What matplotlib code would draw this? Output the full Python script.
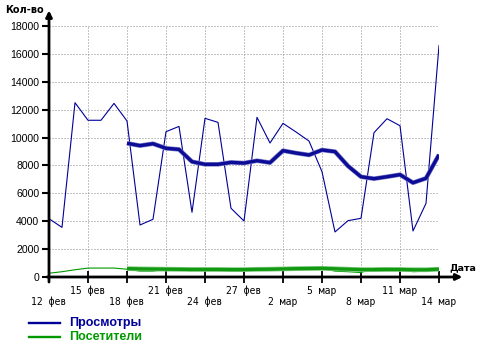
import matplotlib
matplotlib.use("Agg")
import matplotlib.pyplot as plt
import numpy as np

# Daily statistics, 12 Feb .. 14 Mar
days = list(range(31))
tick_days = list(range(0, 31, 3))
tick_labels = ["12 фев", "15 фев", "18 фев", "21 фев", "24 фев", "27 фев",
               "2 мар", "5 мар", "8 мар", "11 мар", "14 мар"]

views = [4180, 3560, 12500, 11240, 11240, 12450, 11190, 3730, 4140, 10420,
         10800, 4640, 11380, 11090, 4930, 4015, 11450, 9610, 11020, 10400,
         9750, 7550, 3230, 4040, 4210, 10350, 11350, 10850, 3300, 5280, 16600]
visitors = [270, 380, 520, 640, 640, 640, 560, 420, 420, 560,
            560, 450, 580, 560, 420, 430, 600, 560, 660, 620,
            600, 640, 420, 380, 320, 620, 640, 580, 380, 420, 580]

# Smoothed series start on 18 Feb
avg_days = list(range(6, 31))
views_avg = [9590, 9420, 9560, 9230, 9150, 8270, 8080, 8080, 8220, 8170,
             8340, 8200, 9060, 8890, 8750, 9110, 8990, 7960, 7190, 7050,
             7190, 7340, 6760, 7080, 8770]
visitors_avg = [600, 580, 570, 560, 550, 540, 540, 540, 530, 530,
                550, 560, 580, 600, 610, 620, 590, 560, 530, 530,
                540, 540, 520, 520, 560]

y_ticks = list(range(0, 18001, 2000))

BLUE = "#000099"
GREEN = "#009900"

W, H = 478, 348
fig = plt.figure(figsize=(W / 100, H / 100), dpi=100)
fig.patch.set_facecolor("white")
ax = fig.add_axes([49 / W, (H - 277) / H, 390 / W, 251 / H])
ax.set_xlim(0, 30)
ax.set_ylim(0, 18000)
for s in ax.spines.values():
    s.set_visible(False)

# dotted grid
grid_style = dict(color="#8c8c8c", lw=0.72, linestyle=(0, (1, 2)), zorder=1)
for yv in y_ticks[1:]:
    ax.axhline(yv, **grid_style)
for xv in tick_days[1:]:
    ax.axvline(xv, **grid_style)

# series
ax.plot(days, visitors, color=GREEN, lw=0.8, zorder=3)
ax.plot(avg_days, visitors_avg, color="#7fc97f", lw=3.4, zorder=3,
        solid_capstyle="butt")
ax.plot(avg_days, visitors_avg, color="#119911", lw=2.3, zorder=3,
        solid_capstyle="butt")
ax.plot(days, views, color=BLUE, lw=0.8, zorder=4)
ax.plot(avg_days, views_avg, color="#8080c8", lw=3.3, zorder=5,
        solid_capstyle="butt")
ax.plot(avg_days, views_avg, color="#0c0c96", lw=2.4, zorder=5,
        solid_capstyle="butt")

# axes with arrows
ax.annotate("", xy=(0, 1.062), xytext=(0, -0.02), xycoords="axes fraction",
            arrowprops=dict(arrowstyle="-|>", lw=2.0, color="black",
                            mutation_scale=9, shrinkA=0, shrinkB=0),
            annotation_clip=False, zorder=6)
ax.annotate("", xy=(1.06, 0), xytext=(-0.005, 0), xycoords="axes fraction",
            arrowprops=dict(arrowstyle="-|>", lw=2.0, color="black",
                            mutation_scale=9, shrinkA=0, shrinkB=0),
            annotation_clip=False, zorder=6)

# ticks
ax.set_yticks(y_ticks)
ax.set_yticklabels([str(v) for v in y_ticks], fontsize=7.6,
                   family="Liberation Sans")
ax.tick_params(axis="y", direction="out", length=5, width=1.5, pad=2)
ax.set_xticks(tick_days)
ax.set_xticklabels([])
ax.tick_params(axis="x", direction="inout", length=8, width=1.3)

for i, (d, lab) in enumerate(zip(tick_days, tick_labels)):
    yoff = -14 / 251 if i % 2 == 1 else -25 / 251
    ax.text(d, yoff, lab, transform=ax.get_xaxis_transform(), ha="center",
            va="center", fontsize=7, family="DejaVu Sans Mono")

# axis titles
fig.text(5 / W, 1 - 10 / H, "Кол-во", fontsize=7, fontweight="bold",
         family="DejaVu Sans", ha="left", va="center")
fig.text(449 / W, 1 - 268 / H, "Дата", fontsize=6.8, fontweight="bold",
         family="DejaVu Sans", ha="left", va="center")

# legend
for yy, col, name in [(323, BLUE, "Просмотры"), (337, GREEN, "Посетители")]:
    fig.add_artist(plt.Line2D([29 / W, 60 / W], [1 - yy / H, 1 - yy / H],
                              color=col, lw=1.7, transform=fig.transFigure))
    fig.text(69 / W, 1 - yy / H, name, color=col, fontsize=9,
             fontweight="bold", family="Liberation Sans", ha="left",
             va="center")

fig.savefig("out.png", dpi=100)
